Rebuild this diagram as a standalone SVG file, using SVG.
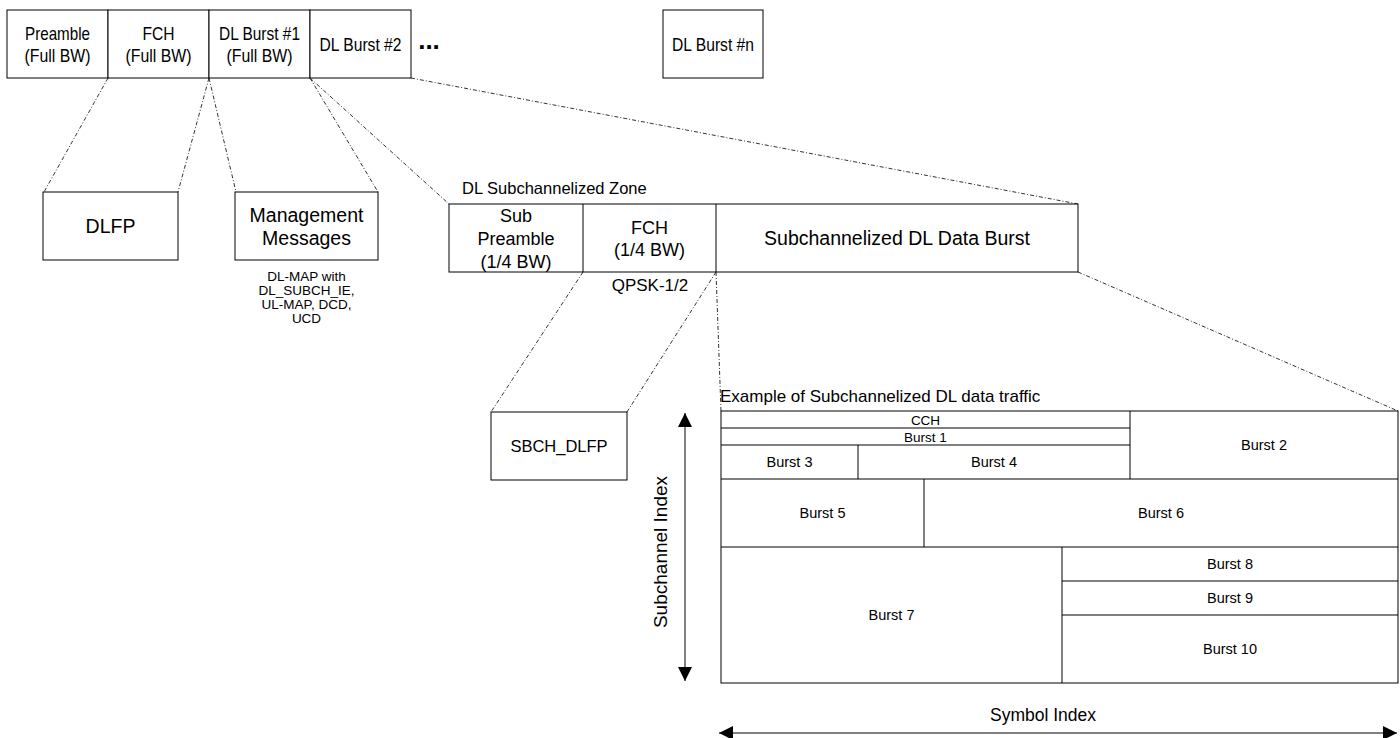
<svg xmlns="http://www.w3.org/2000/svg" width="1400" height="738" viewBox="0 0 1400 738">
<defs>
<style>
.b{fill:#fff;stroke:#000;stroke-width:1}
.t{font-family:"Liberation Sans",Arial,sans-serif;fill:#000;text-anchor:middle}
.top{font-size:19px}
.m{font-size:19.5px}
.z{font-size:18px}
.s{font-size:13.5px}
.bu{font-size:14.5px}
.c{fill:none;stroke:#333;stroke-width:1;stroke-dasharray:4 2 1 2}
.a{fill:none;stroke:#000;stroke-width:1}
</style>
<marker id="ah" viewBox="0 0 10 10" refX="10" refY="5" markerWidth="14" markerHeight="14" markerUnits="userSpaceOnUse" orient="auto-start-reverse"><path d="M0,0 L10,5 L0,10 z" fill="#000"/></marker>
</defs>
<rect width="1400" height="738" fill="#fff"/>
<g id="connectors">
<line class="c" x1="108" y1="78" x2="44" y2="192"/>
<line class="c" x1="209" y1="78" x2="178" y2="192"/>
<line class="c" x1="209" y1="78" x2="236" y2="192"/>
<line class="c" x1="310" y1="78" x2="378" y2="192"/>
<line class="c" x1="310" y1="78" x2="449" y2="204"/>
<line class="c" x1="411" y1="78" x2="1078" y2="204"/>
<line class="c" x1="583" y1="272" x2="491" y2="412"/>
<line class="c" x1="716" y1="272" x2="627" y2="412"/>
<line class="c" x1="716" y1="272" x2="721" y2="411"/>
<line class="c" x1="1078" y1="272" x2="1398" y2="411"/>
</g>
<g id="top-frame">
<rect class="b" x="7" y="10" width="101" height="68"/>
<text class="t top" x="57.5" y="40" textLength="65" lengthAdjust="spacingAndGlyphs">Preamble</text>
<text class="t top" x="57.5" y="62" textLength="66" lengthAdjust="spacingAndGlyphs">(Full BW)</text>
<rect class="b" x="108" y="10" width="101" height="68"/>
<text class="t top" x="158.5" y="40" textLength="32" lengthAdjust="spacingAndGlyphs">FCH</text>
<text class="t top" x="158.5" y="62" textLength="66" lengthAdjust="spacingAndGlyphs">(Full BW)</text>
<rect class="b" x="209" y="10" width="101" height="68"/>
<text class="t top" x="259.5" y="40" textLength="81" lengthAdjust="spacingAndGlyphs">DL Burst #1</text>
<text class="t top" x="259.5" y="62" textLength="66" lengthAdjust="spacingAndGlyphs">(Full BW)</text>
<rect class="b" x="310" y="10" width="101" height="68"/>
<text class="t top" x="360.5" y="51" textLength="82" lengthAdjust="spacingAndGlyphs">DL Burst #2</text>
<text class="t" x="429" y="49" style="font-weight:bold;font-size:26px">...</text>
</g>
<g id="dl-burst-n">
<rect class="b" x="663" y="10" width="100" height="68"/>
<text class="t top" x="713" y="51" textLength="82" lengthAdjust="spacingAndGlyphs">DL Burst #n</text>
</g>
<g id="dlfp">
<rect class="b" x="43" y="192" width="135" height="68"/>
<text class="t m" x="110.5" y="233">DLFP</text>
</g>
<g id="mgmt">
<rect class="b" x="235" y="192" width="143" height="68"/>
<text class="t m" x="306.5" y="222">Management</text>
<text class="t m" x="306.5" y="245">Messages</text>
<text class="t s" x="306.5" y="281">DL-MAP with</text>
<text class="t s" x="306.5" y="295">DL_SUBCH_IE,</text>
<text class="t s" x="306.5" y="309">UL-MAP, DCD,</text>
<text class="t s" x="306.5" y="323">UCD</text>
</g>
<g id="zone">
<text class="t" x="462" y="194" style="text-anchor:start;font-size:16.5px">DL Subchannelized Zone</text>
<rect class="b" x="449" y="204" width="629" height="68"/>
<line class="a" x1="583" y1="204" x2="583" y2="272"/>
<line class="a" x1="716" y1="204" x2="716" y2="272"/>
<text class="t z" x="516" y="222">Sub</text>
<text class="t z" x="516" y="245">Preamble</text>
<text class="t z" x="516" y="268">(1/4 BW)</text>
<text class="t z" x="649.5" y="234">FCH</text>
<text class="t z" x="649.5" y="256">(1/4 BW)</text>
<text class="t m" x="897" y="245">Subchannelized DL Data Burst</text>
<text class="t" x="650" y="291" style="font-size:17px">QPSK-1/2</text>
</g>
<g id="sbch">
<rect class="b" x="491" y="412" width="136" height="68"/>
<text class="t" x="559" y="452" style="font-size:16.5px">SBCH_DLFP</text>
</g>
<g id="traffic">
<text class="t" x="720" y="402" style="text-anchor:start;font-size:17px">Example of Subchannelized DL data traffic</text>
<rect class="b" x="721" y="411" width="677" height="272"/>
<line class="a" x1="721" y1="428" x2="1130" y2="428"/>
<line class="a" x1="721" y1="445" x2="1130" y2="445"/>
<line class="a" x1="1130" y1="411" x2="1130" y2="479"/>
<line class="a" x1="858" y1="445" x2="858" y2="479"/>
<line class="a" x1="721" y1="479" x2="1398" y2="479"/>
<line class="a" x1="924" y1="479" x2="924" y2="547"/>
<line class="a" x1="721" y1="547" x2="1398" y2="547"/>
<line class="a" x1="1062" y1="547" x2="1062" y2="683"/>
<line class="a" x1="1062" y1="581" x2="1398" y2="581"/>
<line class="a" x1="1062" y1="615" x2="1398" y2="615"/>
<text class="t" x="925.5" y="425" style="font-size:13.5px">CCH</text>
<text class="t" x="925.5" y="442" style="font-size:13.5px">Burst 1</text>
<text class="t bu" x="1264" y="450">Burst 2</text>
<text class="t bu" x="789.5" y="467">Burst 3</text>
<text class="t bu" x="994" y="467">Burst 4</text>
<text class="t bu" x="822.5" y="518">Burst 5</text>
<text class="t bu" x="1161" y="518">Burst 6</text>
<text class="t bu" x="891.5" y="620">Burst 7</text>
<text class="t bu" x="1230" y="569">Burst 8</text>
<text class="t bu" x="1230" y="603">Burst 9</text>
<text class="t bu" x="1230" y="654">Burst 10</text>
</g>
<g id="axes">
<line class="a" x1="685" y1="413" x2="685" y2="681" marker-start="url(#ah)" marker-end="url(#ah)"/>
<text class="t" x="0" y="0" style="font-size:19px" transform="translate(667,552) rotate(-90)">Subchannel Index</text>
<line class="a" x1="719" y1="733" x2="1397" y2="733" marker-start="url(#ah)" marker-end="url(#ah)"/>
<text class="t" x="1043" y="721" style="font-size:17.5px">Symbol Index</text>
</g>
</svg>
